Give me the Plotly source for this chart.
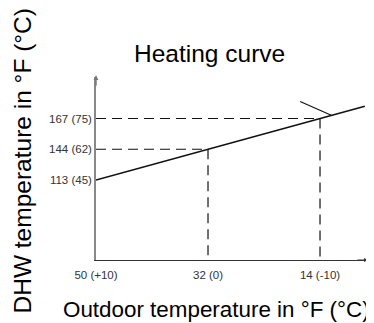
import plotly.graph_objects as go

# ---- data ----
x_ticks_f = [50, 32, 14]
x_tick_labels = ["50 (+10)", "32 (0)", "14 (-10)"]
y_levels = [0, 1, 2]
y_tick_labels = ["113 (45)", "144 (62)", "167 (75)"]

# heating curve (outdoor °F vs DHW level index)
curve_x = [50, 32, 14, 6.8]
curve_y = [0, 1, 2, 2.4]

# reference points marked by dashed guide lines
mark_x = [32, 14]
mark_y = [1, 2]

# small pointer stroke near the top of the curve
pointer_x = [17.2, 12.1]
pointer_y = [2.55, 2.1]

X_RANGE = [50, 6.29]
Y_RANGE = [-2.602, 3.35]

FONT = "Liberation Sans, Arial, Helvetica, sans-serif"
# page body has an 8px default margin -> compensate
OFF = 8
W, H = 374 - OFF, 323 - OFF
L, R, T, B = 96 - OFF, 6, 77 - OFF, 63
PW, PH = W - L - R, H - T - B


def px(xp):  # page x -> paper
    return (xp - OFF - L) / PW


def py(yp):  # page y -> paper
    return (H - B - (yp - OFF)) / PH


fig = go.Figure()

# dashed guides
for mx, my in zip(mark_x, mark_y):
    fig.add_trace(go.Scatter(
        x=[X_RANGE[0], mx, mx], y=[my, my, Y_RANGE[0]],
        mode="lines", line=dict(color="#111", width=1.2, dash="10px,6px"),
        hoverinfo="skip", showlegend=False, cliponaxis=False))

# curve
fig.add_trace(go.Scatter(x=curve_x, y=curve_y, mode="lines",
                         line=dict(color="#111", width=1.6),
                         showlegend=False, cliponaxis=False))
# pointer
fig.add_trace(go.Scatter(x=pointer_x, y=pointer_y, mode="lines",
                         line=dict(color="#111", width=1.1),
                         showlegend=False, cliponaxis=False))

fig.update_layout(
    width=W, height=H,
    margin=dict(l=L, r=R, t=T, b=B, autoexpand=False),
    paper_bgcolor="white", plot_bgcolor="white",
    font=dict(family=FONT, color="#000"),
    xaxis=dict(range=X_RANGE, tickvals=x_ticks_f, ticktext=x_tick_labels,
               showgrid=False, zeroline=False, showline=True,
               linecolor="#333", linewidth=1, ticks="",
               tickfont=dict(size=11.5, color="#333", family=FONT),
               ticklabelstandoff=4),
    yaxis=dict(range=Y_RANGE, tickvals=y_levels, ticktext=y_tick_labels,
               showgrid=False, zeroline=False, showline=True,
               linecolor="#888", linewidth=1.6, ticks="",
               tickfont=dict(size=11.5, color="#333", family=FONT)),
    showlegend=False,
)

# axis arrowheads
fig.add_annotation(xref="paper", yref="paper", x=1, y=0, ax=-12, ay=0,
                   text="", showarrow=True, arrowhead=2, arrowsize=0.8,
                   arrowwidth=1, arrowcolor="#333")
fig.add_annotation(xref="paper", yref="paper", x=0, y=1.01, ax=0, ay=12,
                   text="", showarrow=True, arrowhead=2, arrowsize=0.7,
                   arrowwidth=1.4, arrowcolor="#777")

# title
fig.add_annotation(xref="paper", yref="paper", x=px(209), y=py(53),
                   text="Heating curve", showarrow=False,
                   xanchor="center", yanchor="middle",
                   font=dict(size=24.5, family=FONT, color="#000"))
# axis titles
fig.add_annotation(xref="paper", yref="paper", x=px(216.5), y=py(309),
                   text="Outdoor temperature in °F (°C)",
                   showarrow=False, xanchor="center", yanchor="middle",
                   font=dict(size=22.4, family=FONT, color="#000"))
fig.add_annotation(xref="paper", yref="paper", x=px(21.5), y=py(161),
                   text="DHW temperature in °F (°C)",
                   textangle=-90, showarrow=False, xanchor="center",
                   yanchor="middle",
                   font=dict(size=24.5, family=FONT, color="#000"))

fig.write_html("out.html")
